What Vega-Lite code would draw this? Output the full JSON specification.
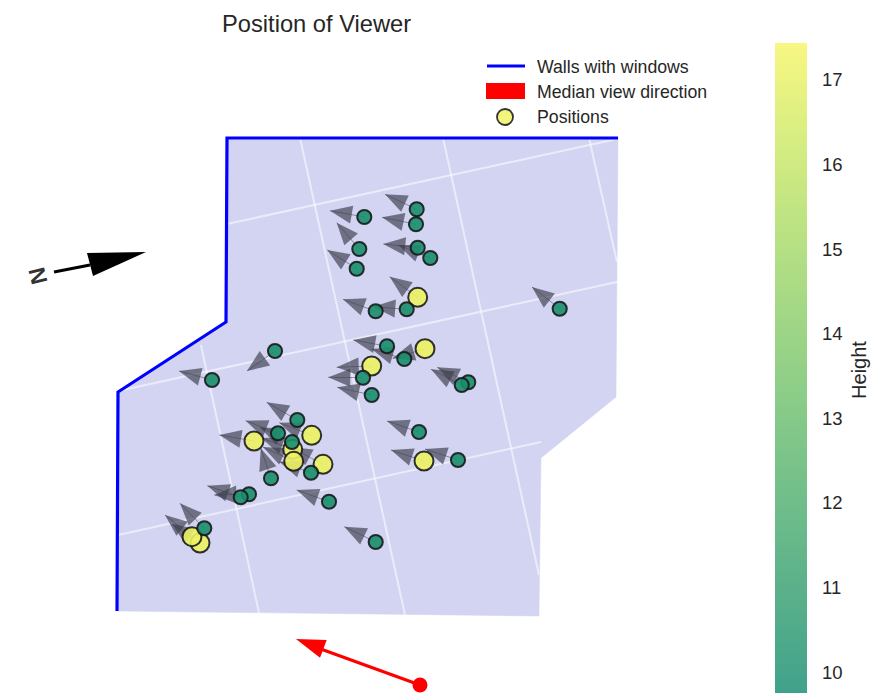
{
"$schema":"https://vega.github.io/schema/vega-lite/v6.json",
"width":873,"height":698,"padding":0,"autosize":{"type":"none"},
"background":"#ffffff",
"config":{"view":{"stroke":null},"font":"Liberation Sans"},
"datasets":{
"floor":[{"i":0,"x":227,"y":138},{"i":1,"x":618,"y":138},{"i":2,"x":616,"y":397},{"i":3,"x":541,"y":458},{"i":4,"x":539,"y":616},{"i":5,"x":117,"y":611},{"i":6,"x":118,"y":392},{"i":7,"x":226,"y":322}],
"walls":[{"i":0,"x":618,"y":138},{"i":1,"x":227,"y":138},{"i":2,"x":226,"y":322},{"i":3,"x":118,"y":392},{"i":4,"x":117,"y":611}],
"grid":[
{"x":227,"y":224,"x2":617,"y2":139},
{"x":118,"y":391,"x2":617,"y2":282},
{"x":118,"y":535,"x2":541,"y2":442},
{"x":300,"y":138,"x2":405,"y2":615},
{"x":201,"y":345,"x2":259,"y2":613},
{"x":443,"y":138,"x2":539,"y2":575},
{"x":589,"y":138,"x2":617,"y2":262}],
"views":[
{"x":416.7,"y":209.3,"tx":385,"ty":194.3,"angle":-65,"height":10},
{"x":416,"y":224.3,"tx":382,"ty":217.3,"angle":-78,"height":10},
{"x":364.3,"y":217,"tx":330,"ty":210.7,"angle":-80,"height":10},
{"x":359.3,"y":249,"tx":336.7,"ty":222.7,"angle":-41,"height":10},
{"x":356.7,"y":268.7,"tx":327.3,"ty":250,"angle":-57.5,"height":10},
{"x":417.7,"y":247.7,"tx":383.3,"ty":244,"angle":-84,"height":10},
{"x":430.3,"y":258,"tx":398.3,"ty":245,"angle":-68,"height":10},
{"x":417.7,"y":297.3,"tx":389.7,"ty":276.7,"angle":-54,"height":17.2},
{"x":375.7,"y":311.3,"tx":343,"ty":299.3,"angle":-70,"height":10},
{"x":406.7,"y":309.3,"tx":373.3,"ty":306.7,"angle":-85.5,"height":10},
{"x":559.7,"y":308.7,"tx":532,"ty":287,"angle":-52,"height":10},
{"x":387,"y":346.3,"tx":353.3,"ty":340,"angle":-79,"height":10},
{"x":425,"y":348.7,"tx":392.7,"ty":358.3,"angle":-107,"height":17.2},
{"x":404.3,"y":359,"tx":371.7,"ty":349,"angle":-73,"height":10},
{"x":371.7,"y":366,"tx":336.7,"ty":367.3,"angle":-92,"height":17.2},
{"x":363,"y":377.7,"tx":328.3,"ty":377.3,"angle":-89,"height":10},
{"x":371.7,"y":395,"tx":337.3,"ty":387.3,"angle":-77,"height":10},
{"x":468.3,"y":382.3,"tx":437.3,"ty":367.3,"angle":-64,"height":10},
{"x":461.7,"y":385,"tx":431,"ty":369.3,"angle":-63,"height":10},
{"x":275,"y":351,"tx":247,"ty":371,"angle":-125.5,"height":10},
{"x":212,"y":380,"tx":179,"ty":371,"angle":-75,"height":10},
{"x":419,"y":432,"tx":387,"ty":421,"angle":-71,"height":10},
{"x":458,"y":460,"tx":425,"ty":449,"angle":-71.5,"height":10},
{"x":424,"y":461,"tx":391,"ty":450,"angle":-71.5,"height":17.2},
{"x":311.7,"y":435.3,"tx":279.3,"ty":422.7,"angle":-69,"height":17.2},
{"x":254,"y":441,"tx":219.3,"ty":435,"angle":-80,"height":17.2},
{"x":323,"y":464.3,"tx":290,"ty":447,"angle":-62,"height":17.2},
{"x":292.7,"y":449.3,"tx":261.5,"ty":438,"angle":-70,"height":17.2},
{"x":293.7,"y":461.3,"tx":263,"ty":447,"angle":-65,"height":17.2},
{"x":297.3,"y":420,"tx":266.7,"ty":402.3,"angle":-60,"height":10},
{"x":278,"y":433.3,"tx":245.7,"ty":420.7,"angle":-69,"height":10},
{"x":292,"y":442,"tx":260,"ty":427.5,"angle":-66,"height":10},
{"x":311,"y":472.7,"tx":279.3,"ty":461.7,"angle":-71,"height":10},
{"x":271,"y":478.3,"tx":260.7,"ty":448.3,"angle":-19,"height":10},
{"x":249,"y":494.3,"tx":214.3,"ty":495,"angle":-91,"height":10},
{"x":240.7,"y":497.3,"tx":207.3,"ty":485.7,"angle":-71,"height":10},
{"x":329,"y":501.7,"tx":296.7,"ty":490,"angle":-70,"height":10},
{"x":375.7,"y":542,"tx":344.3,"ty":526.7,"angle":-64,"height":10},
{"x":200,"y":543,"tx":172,"ty":524,"angle":-56,"height":17.2},
{"x":192,"y":536.7,"tx":165,"ty":515,"angle":-51,"height":17.2},
{"x":204.3,"y":528.3,"tx":180,"ty":503.3,"angle":-44,"height":10}
],
"median":[{"x":420,"y":685,"tx":296,"ty":639,"bx":318,"by":648}],
"north":[{"x":54,"y":272,"tx":90,"ty":265,"hx":146,"hy":252}],
"labels":[
{"x":222,"y":25,"label":"Position of Viewer","size":23.7},
{"x":537,"y":67.5,"label":"Walls with windows","size":17.7},
{"x":537,"y":92.5,"label":"Median view direction","size":17.7},
{"x":537,"y":117.5,"label":"Positions","size":17.7}
],
"keyLine":[{"x":487,"y":66,"x2":525}],
"keyRect":[{"x":486,"y":83,"x2":525,"y2":99}],
"keyDot":[{"x":505,"y":117}],
"northLabel":[{"x":37,"y":276,"label":"N"}],
"barTitle":[{"x":860,"y":370,"label":"Height"}]
},
"encoding":{
"x":{"field":"x","type":"quantitative","axis":null,"scale":{"domain":[0,873],"nice":false,"zero":false}},
"y":{"field":"y","type":"quantitative","axis":null,"scale":{"domain":[698,0],"nice":false,"zero":false}}
},
"layer":[
{"data":{"name":"floor"},"mark":{"type":"line","fill":"#d3d4f2","stroke":"#d3d4f2","strokeWidth":0.5},"encoding":{"order":{"field":"i"}}},
{"data":{"name":"grid"},"mark":{"type":"rule","stroke":"#ffffff","strokeOpacity":0.55,"strokeWidth":2},"encoding":{"x2":{"field":"x2"},"y2":{"field":"y2"}}},
{"data":{"name":"walls"},"mark":{"type":"line","stroke":"#0000ff","strokeWidth":3.2,"strokeJoin":"miter"},"encoding":{"order":{"field":"i"}}},
{"data":{"name":"views"},"mark":{"type":"rule","stroke":"#55556a","strokeOpacity":0.6,"strokeWidth":1},"encoding":{"x2":{"field":"tx"},"y2":{"field":"ty"}}},
{"data":{"name":"views"},"mark":{"type":"point","filled":true,"fill":"#3c3c4a","opacity":1,"fillOpacity":0.66,"stroke":null,"shape":"M0,0 L0.9,2.2 L-0.9,2.2 Z","size":400},
 "encoding":{"x":{"field":"tx"},"y":{"field":"ty"},"angle":{"field":"angle","type":"quantitative","scale":null}}},
{"data":{"name":"views"},"mark":{"type":"point","filled":true,"shape":"circle","stroke":"#161616","strokeWidth":2,"opacity":1,"fillOpacity":0.9,"strokeOpacity":0.88},
 "encoding":{
  "color":{"field":"height","type":"quantitative","scale":{"domain":[9.76,17.44],"range":["#108a6c","#f6f563"]},
   "legend":{"orient":"none","legendX":775,"legendY":43,"direction":"vertical","type":"gradient","gradientLength":650,"gradientThickness":32,"gradientOpacity":0.8,"gradientStrokeWidth":0,"values":[10,11,12,13,14,15,16,17],"format":"d","title":null,"labelFontSize":18.5,"labelColor":"#262626","labelOffset":15}},
  "size":{"field":"height","type":"quantitative","scale":{"domain":[10,17.2],"range":[200,360]},"legend":null}}},
{"data":{"name":"median"},"mark":{"type":"rule","stroke":"#ff0000","strokeWidth":3.2},"encoding":{"x2":{"field":"bx"},"y2":{"field":"by"}}},
{"data":{"name":"median"},"mark":{"type":"point","filled":true,"fill":"#ff0000","opacity":1,"stroke":null,"shape":"circle","size":225}},
{"data":{"name":"median"},"mark":{"type":"point","filled":true,"fill":"#ff0000","opacity":1,"stroke":null,"shape":"M0,0 L3.07,0.1 L2.4,1.87 Z","size":400},
 "encoding":{"x":{"field":"tx"},"y":{"field":"ty"}}},
{"data":{"name":"north"},"mark":{"type":"rule","stroke":"#000000","strokeWidth":3},"encoding":{"x2":{"field":"tx"},"y2":{"field":"ty"}}},
{"data":{"name":"north"},"mark":{"type":"point","filled":true,"fill":"#000000","opacity":1,"stroke":null,"shape":"M0,0 L-5.9,0.1 L-5.3,2.4 Z","size":400},
 "encoding":{"x":{"field":"hx"},"y":{"field":"hy"}}},
{"data":{"name":"northLabel"},"mark":{"type":"text","fontSize":23,"fontWeight":"bold","angle":76,"align":"center","baseline":"middle","color":"#333333"},"encoding":{"text":{"field":"label"}}},
{"data":{"name":"barTitle"},"mark":{"type":"text","fontSize":20,"angle":270,"align":"center","baseline":"middle","color":"#262626"},"encoding":{"text":{"field":"label"}}},
{"data":{"name":"keyLine"},"mark":{"type":"rule","stroke":"#0000ff","strokeWidth":3},"encoding":{"x2":{"field":"x2"}}},
{"data":{"name":"keyRect"},"mark":{"type":"rect","fill":"#ff0000"},"encoding":{"x2":{"field":"x2"},"y2":{"field":"y2"}}},
{"data":{"name":"keyDot"},"mark":{"type":"point","filled":true,"shape":"circle","fill":"#f4f47c","stroke":"#333333","strokeWidth":1.8,"size":256,"opacity":1}},
{"data":{"name":"labels"},"mark":{"type":"text","align":"left","baseline":"middle","color":"#262626"},"encoding":{"text":{"field":"label"},"size":{"field":"size","type":"quantitative","scale":null,"legend":null}}}
]
}
